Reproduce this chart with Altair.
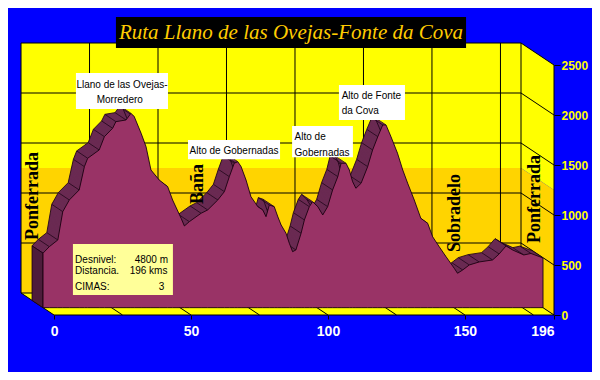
import altair as alt
import numpy as np
import pandas as pd

# ---------------- data ----------------
# position along the chart's distance axis, elevation (m)
KM = [0, 2.3, 5.4, 7.2, 9.6, 13.2, 15.1, 16.3, 20.5, 22.4, 25.4, 26.6, 30.3, 32.1, 33.3,
      35.8, 37.6, 39.4, 42.4, 45.5, 47.3, 50.4, 51.6, 53.4, 57.7, 60.1, 63.8, 66.2, 68.0,
      69.8, 71.1, 72.3, 74.1, 75.9, 78.4, 80.2, 81.4, 82.6, 84.4, 85.7, 86.9, 88.7, 89.9,
      91.1, 92.3, 94.2, 95.4, 97.2, 98.4, 100.3, 102.1, 103.9, 105.7, 107.6, 108.8, 110.6,
      111.8, 113.0, 114.2, 116.1, 118.5, 120.3, 122.2, 124.0, 125.2, 127.0, 129.4, 131.3,
      133.1, 135.5, 137.9, 140.4, 142.2, 144.6, 147.1, 150.1, 151.3, 153.2, 155.6, 159.2,
      164.1, 166.5, 169.0, 171.4, 175.5, 178.1, 182.5]
ELEV = [545, 610, 677, 960, 1077, 1177, 1410, 1494, 1577, 1710, 1794, 1860, 1877, 1944, 1910,
        1744, 1610, 1377, 1277, 1210, 1077, 894, 817, 860, 944, 977, 1077, 1160, 1310,
        1444, 1460, 1410, 1277, 1110, 1010, 977, 910, 1027, 1010, 910, 827, 744, 644,
        560, 577, 744, 877, 1010, 1060, 1010, 927, 1010, 1177, 1310, 1444, 1444,
        1377, 1260, 1194, 1244, 1410, 1577, 1710, 1827, 1827, 1710, 1544, 1377,
        1244, 1077, 894, 844, 710, 610, 510, 394, 344, 377, 427, 457,
        477, 537, 617, 577, 527, 542, 497]

X_TICKS = [0, 50, 100, 150, 182.5]      # last tick carries the total distance label
X_END_LABEL = "196"
Y_TICKS = [0, 500, 1000, 1500, 2000, 2500]
WALL_GRID_X = [25, 50, 75, 100, 125, 150, 175]
WALL_GRID_Y = [500, 1000, 1500, 2000]

TITLE = "Ruta Llano de las Ovejas-Fonte da Cova"
PLACE_NAMES = ["Ponferrada", "Baña", "Sobradelo", "Ponferrada"]
PLACE_KM = [-7.5, 52.6, 146.4, 175.5]
PLACE_ELEV = [1190, 1310, 1020, 1160]

PEAK_LINES = ["Llano de las Ovejas-", "Morredero", "Alto de Gobernadas",
              "Alto de", "Gobernadas", "Alto de Fonte", "da Cova"]
INFO_KEYS = ["Desnivel:", "Distancia.", "CIMAS:"]
INFO_VALUES = ["4800 m", "196 kms", "3"]

# ---------------- chart geometry (data units) ----------------
U_MIN, U_END, M_TOP = -16.8, 182.5, 3070
DU, DM = 33 / 2.74, 220.0          # depth of the 3-D box
WALL_H, SPLIT = 2500, 1250
F_FRONT, F_BACK = 1 / 3, 2 / 3      # depth of the area slab

XS = alt.Scale(domain=[U_MIN, U_END], nice=False, zero=False)
YS = alt.Scale(domain=[0, M_TOP], nice=False, zero=False)
XAXIS = alt.Axis(values=X_TICKS, title=None, grid=False, domain=False,
                 labelExpr=f"datum.value > 180 ? '{X_END_LABEL}' : datum.label",
                 labelAlign={"condition": {"test": "datum.value > 180", "value": "right"},
                             "value": "center"},
                 tickColor="#000000", tickSize=4, labelColor="#FFFFFF",
                 labelFont="Liberation Sans", labelFontSize=14, labelFontWeight="bold",
                 labelPadding=5, labelOverlap=False, labelFlush=False)
YAXIS = alt.Axis(orient="right", values=Y_TICKS, title=None, grid=False, domain=False,
                 format="d",
                 tickColor="#000000", tickSize=6, labelColor="#FFFF00",
                 labelFont="Liberation Sans", labelFontSize=12, labelFontWeight="bold",
                 labelPadding=1)


def X(f):
    return alt.X(f, type="quantitative", scale=XS, axis=XAXIS)


def Y(f):
    return alt.Y(f, type="quantitative", scale=YS, axis=YAXIS)


km = np.array(KM, dtype=float)
el = np.array(ELEV, dtype=float)
TONES = alt.Scale(domain=["low", "high"], range=["#FFD400", "#FFFF00"])

# back wall
back = pd.DataFrame({"u1": [-DU, -DU], "u2": [U_END - DU] * 2,
                     "m1": [DM, DM + SPLIT], "m2": [DM + SPLIT, DM + WALL_H],
                     "tone": ["low", "high"]})
back_l = alt.Chart(back).mark_rect().encode(
    x=X("u1"), x2="u2", y=Y("m1"), y2="m2",
    color=alt.Color("tone:N", scale=TONES, legend=None))

# right side wall
rw = pd.DataFrame({
    "u": [U_END - DU, U_END, U_END - DU, U_END],
    "top": [DM + SPLIT, SPLIT, DM + WALL_H, WALL_H],
    "bot": [DM, 0, DM + SPLIT, SPLIT],
    "tone": ["low", "low", "high", "high"]})
rw_l = alt.Chart(rw).mark_area().encode(
    x=X("u"), y=Y("top"), y2="bot",
    color=alt.Color("tone:N", scale=TONES, legend=None))

# floor
fl = pd.DataFrame({"u": [-DU, 0, U_END - DU, U_END],
                   "top": [DM, DM, DM, 0], "bot": [DM, 0, 0, 0]})
fl_l = alt.Chart(fl).mark_area(color="#FFFF00").encode(x=X("u"), y=Y("top"), y2="bot")

# grid and box edges
seg = []
for g in WALL_GRID_X:
    seg.append((g - DU, DM, g - DU, DM + WALL_H))
    seg.append((g - DU, DM, g, 0))
for h in WALL_GRID_Y:
    seg.append((-DU, DM + h, U_END - DU, DM + h))
for h in WALL_GRID_Y + [WALL_H]:
    seg.append((U_END - DU, DM + h, U_END, h))
seg += [(-DU, DM, -DU, DM + WALL_H), (U_END - DU, DM, U_END - DU, DM + WALL_H),
        (-DU, DM + WALL_H, U_END - DU, DM + WALL_H), (-DU, DM, U_END - DU, DM),
        (U_END, 0, U_END, WALL_H), (-DU, DM, 0, 0), (U_END - DU, DM, U_END, 0),
        (0, 0, U_END, 0)]
grid = pd.DataFrame(seg, columns=["u1", "m1", "u2", "m2"])
grid_l = alt.Chart(grid).mark_rule(color="#000000", strokeWidth=1).encode(
    x=X("u1"), x2="u2", y=Y("m1"), y2="m2")

# extruded elevation profile
fracs = np.linspace(F_BACK, F_FRONT, 10)[:-1]
copies = pd.concat([pd.DataFrame({"u": km - f * DU, "m": el + f * DM,
                                  "base": f * DM, "k": i})
                    for i, f in enumerate(fracs)])
ridge_l = alt.Chart(copies).mark_area(color="#6A2A52").encode(
    x=X("u"), y=Y("m"), y2="base", detail="k:N")

ladder = pd.DataFrame({"u1": km - F_FRONT * DU, "m1": el + F_FRONT * DM,
                       "u2": km - F_BACK * DU, "m2": el + F_BACK * DM})
ladder_l = alt.Chart(ladder).mark_rule(color="#22061A", strokeWidth=0.9, opacity=0.9).encode(
    x=X("u1"), x2="u2", y=Y("m1"), y2="m2")
backline = pd.DataFrame({"u": km - F_BACK * DU, "m": el + F_BACK * DM})
backline_l = alt.Chart(backline).mark_line(color="#22061A", strokeWidth=0.9).encode(
    x=X("u"), y=Y("m"))

cap = pd.DataFrame({"u": [km[0] - F_BACK * DU, km[0] - F_FRONT * DU],
                    "top": [el[0] + F_BACK * DM, el[0] + F_FRONT * DM],
                    "bot": [F_BACK * DM, F_FRONT * DM]})
cap_l = alt.Chart(cap).mark_area(color="#4E1C3B", stroke="#1A0010", strokeWidth=0.8).encode(
    x=X("u"), y=Y("top"), y2="bot")

front = pd.DataFrame({"u": km - F_FRONT * DU, "m": el + F_FRONT * DM,
                      "base": F_FRONT * DM})
front_l = alt.Chart(front).mark_area(color="#993366", stroke="#1A0010",
                                     strokeWidth=0.9).encode(
    x=X("u"), y=Y("m"), y2="base")

# place names
places = pd.DataFrame({"u": PLACE_KM, "m": PLACE_ELEV, "t": PLACE_NAMES})
places_l = alt.Chart(places).mark_text(
    angle=270, font="Liberation Serif", fontSize=18, fontWeight="bold",
    color="#000000", align="center", baseline="middle").encode(
    x=X("u"), y=Y("m"), text="t:N")

# peak labels (white boxes)
boxes = pd.DataFrame({"u1": [8.0, 48.9, 86.9, 104.0], "u2": [41.6, 82.5, 109.1, 128.1],
                      "m1": [2060, 1557, 1577, 1950], "m2": [2420, 1750, 1890, 2300]})
boxes_l = alt.Chart(boxes).mark_rect(color="#FFFFFF").encode(
    x=X("u1"), x2="u2", y=Y("m1"), y2="m2")
peak_c = pd.DataFrame({"u": [24.8, 24.0, 65.7], "m": [2300, 2150, 1640],
                       "t": PEAK_LINES[:3]})
peak_c_l = alt.Chart(peak_c).mark_text(
    font="Liberation Sans", fontSize=10, color="#000000", align="center",
    baseline="middle").encode(x=X("u"), y=Y("m"), text="t:N")
peak_left = pd.DataFrame({"u": [87.8, 87.8, 105.0, 105.0], "m": [1780, 1625, 2190, 2040],
                          "t": PEAK_LINES[3:]})
peak_left_l = alt.Chart(peak_left).mark_text(
    font="Liberation Sans", fontSize=10, color="#000000", align="left",
    baseline="middle").encode(x=X("u"), y=Y("m"), text="t:N")

# info box
info_box = pd.DataFrame({"u1": [6.9], "u2": [43.4], "m1": [200], "m2": [710]})
info_box_l = alt.Chart(info_box).mark_rect(color="#FFFF99").encode(
    x=X("u1"), x2="u2", y=Y("m1"), y2="m2")
info = pd.DataFrame({"m": [550, 440, 285], "k": INFO_KEYS, "v": INFO_VALUES,
                     "uk": [7.7] * 3, "uv": [41.6, 41.4, 40.3]})
info_k_l = alt.Chart(info).mark_text(
    font="Liberation Sans", fontSize=10, color="#000000", align="left",
    baseline="middle").encode(x=X("uk"), y=Y("m"), text="k:N")
info_v_l = alt.Chart(info).mark_text(
    font="Liberation Sans", fontSize=10, color="#000000", align="right",
    baseline="middle").encode(x=X("uv"), y=Y("m"), text="v:N")

# title
tbox = pd.DataFrame({"u1": [22.6], "u2": [150.4], "m1": [2670], "m2": [2980]})
tbox_l = alt.Chart(tbox).mark_rect(color="#000000").encode(
    x=X("u1"), x2="u2", y=Y("m1"), y2="m2")
ttext = pd.DataFrame({"u": [86.5], "m": [2820], "t": [TITLE]})
ttext_l = alt.Chart(ttext).mark_text(
    font="Liberation Serif", fontSize=21, fontStyle="italic", color="#FFCC00",
    align="center", baseline="middle").encode(x=X("u"), y=Y("m"), text="t:N")

chart = alt.layer(
    back_l, rw_l, fl_l, grid_l, ridge_l, ladder_l, backline_l, cap_l, front_l,
    places_l, boxes_l, peak_c_l, peak_left_l, info_box_l, info_k_l, info_v_l,
    tbox_l, ttext_l
).properties(
    width=546, height=307,
    autosize=alt.AutoSizeParams(type="none"),
    padding={"left": 0, "top": 0, "right": 38, "bottom": 57},
    background="#0000FF",
).configure_view(strokeWidth=0)

chart.save("out.html", embed_options={"renderer": "svg", "actions": False})
